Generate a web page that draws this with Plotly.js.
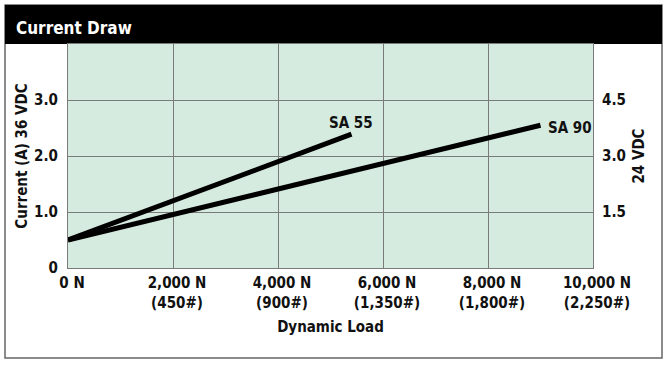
<!DOCTYPE html>
<html>
<head>
<meta charset="utf-8">
<script src="https://cdn.plot.ly/plotly-3.0.1.min.js"></script>
<style>
  html, body { margin: 0; padding: 0; background: #ffffff; }
  #chart { width: 670px; height: 368px; }
</style>
</head>
<body>
<div id="chart"></div>
<script>
// ---- data ----
const seriesNames = ["SA 55", "SA 90"];
const sa55Load = [0, 5400];        // N
const sa55Current = [0.5, 2.39];   // A @ 36 VDC
const sa90Load = [0, 9000];        // N
const sa90Current = [0.5, 2.55];   // A @ 36 VDC

const xTickVals = [0, 2000, 4000, 6000, 8000, 10000];
const xTickText = ["0 N", "2,000 N<br>(450#)", "4,000 N<br>(900#)", "6,000 N<br>(1,350#)", "8,000 N<br>(1,800#)", "10,000 N<br>(2,250#)"];
const yTickVals = [0, 1, 2, 3];
const yTickText = ["0", "1.0", "2.0", "3.0"];
const y2TickVals = [1.5, 3.0, 4.5];
const y2TickText = ["1.5", "3.0", "4.5"];

const FONT = '"DejaVu Sans Condensed", "Liberation Sans Narrow", Arial, sans-serif';
const GRID = "#7a7a7a";
const FS = 15;

const traces = [
  { x: sa55Load, y: sa55Current, name: seriesNames[0], mode: "lines",
    line: { color: "#000000", width: 5 }, hoverinfo: "skip" },
  { x: sa90Load, y: sa90Current, name: seriesNames[1], mode: "lines",
    line: { color: "#000000", width: 5 }, hoverinfo: "skip" }
];

const layout = {
  width: 670, height: 368,
  margin: { l: 68, r: 77, t: 44, b: 100, pad: 0 },
  paper_bgcolor: "#ffffff",
  plot_bgcolor: "#d6ebe0",
  showlegend: false,
  font: { family: FONT, size: FS, color: "#111111", weight: "bold" },
  title: { text: "<b>Current Draw</b>", xref: "container", yref: "container",
           x: 16/670, xanchor: "left", y: 1 - 28.5/368, yanchor: "middle",
           font: { family: FONT, size: 17, color: "#ffffff" } },
  xaxis: {
    range: [0, 10000], tickvals: xTickVals, ticktext: xTickText,
    showgrid: true, gridcolor: GRID, gridwidth: 1, zeroline: false,
    showline: true, linecolor: GRID, linewidth: 1, mirror: true,
    ticks: "", ticklabelshift: 4, ticklabelstandoff: 1,
    tickfont: { family: FONT, size: FS, color: "#111111", weight: "bold" },
    title: { text: "<b>Dynamic Load</b>", standoff: 10,
             font: { family: FONT, size: FS, color: "#111111" } },
    fixedrange: true
  },
  yaxis: {
    range: [0, 4], tickvals: yTickVals, ticktext: yTickText,
    showgrid: true, gridcolor: GRID, gridwidth: 1, zeroline: false,
    showline: true, linecolor: GRID, linewidth: 1, mirror: true,
    ticks: "", ticklabelstandoff: 6,
    tickfont: { family: FONT, size: FS, color: "#111111", weight: "bold" },
    title: { text: "<b>Current (A) 36 VDC</b>", standoff: 2,
             font: { family: FONT, size: FS, color: "#111111" } },
    fixedrange: true
  },
  yaxis2: {
    overlaying: "y", side: "right", range: [0, 6],
    tickvals: y2TickVals, ticktext: y2TickText,
    showgrid: false, zeroline: false, showline: false,
    ticks: "", ticklabelstandoff: 8,
    tickfont: { family: FONT, size: FS, color: "#111111", weight: "bold" },
    title: { text: "<b>24 VDC</b>", standoff: 8,
             font: { family: FONT, size: FS, color: "#111111" } },
    fixedrange: true
  },
  annotations: [
    { x: 5390, y: 2.59, xref: "x", yref: "y", text: "<b>" + seriesNames[0] + "</b>",
      showarrow: false, xanchor: "center", yanchor: "middle",
      font: { family: FONT, size: FS, color: "#111111" } },
    { x: 9560, y: 2.5, xref: "x", yref: "y", text: "<b>" + seriesNames[1] + "</b>",
      showarrow: false, xanchor: "center", yanchor: "middle",
      font: { family: FONT, size: FS, color: "#111111" } }
  ],
  shapes: [
    { type: "rect", xref: "paper", yref: "paper", layer: "below",
      x0: (5 - 68) / 525, x1: (662 - 68) / 525, y0: (268 - 358) / 224, y1: (268 - 5) / 224,
      line: { color: "#666666", width: 1.5 }, fillcolor: "rgba(0,0,0,0)" },
    { type: "rect", xref: "paper", yref: "paper", layer: "below",
      x0: (5 - 68) / 525, x1: (662 - 68) / 525, y0: 1.0, y1: (268 - 5) / 224,
      line: { color: "#000000", width: 0 }, fillcolor: "#000000" }
  ]
};

// empty trace bound to the right-hand axis so that axis is rendered (draws no marks)
traces.push({ x: [], y: [], yaxis: "y2", mode: "lines", hoverinfo: "skip", showlegend: false });

Plotly.newPlot("chart", traces, layout, { staticPlot: true, displayModeBar: false });
</script>
</body>
</html>
